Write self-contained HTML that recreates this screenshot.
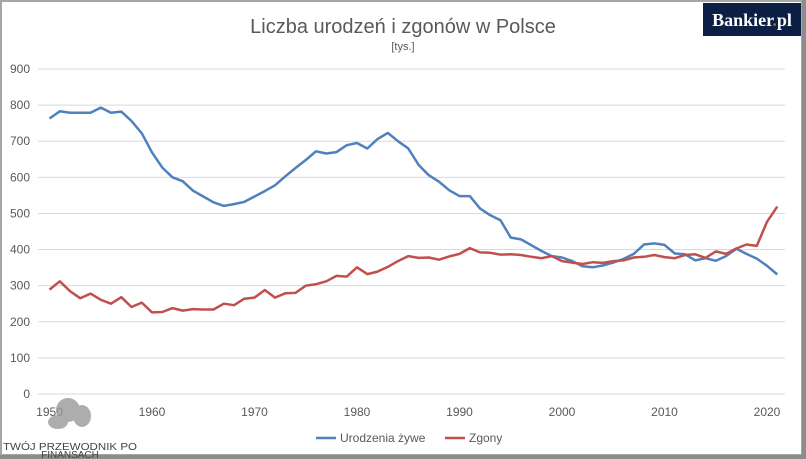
<!DOCTYPE html>
<html><head><meta charset="utf-8"><style>
html,body{margin:0;padding:0;background:#fff}
svg{display:block;font-family:"Liberation Sans",sans-serif}
</style></head><body>
<svg id="s" width="806" height="459" viewBox="0 0 806 459" xmlns="http://www.w3.org/2000/svg">
<rect x="0" y="0" width="806" height="459" fill="#fff"/>
<rect x="1" y="1" width="801" height="454" fill="none" stroke="#a6a6a6" stroke-width="2"/>
<rect x="802" y="0" width="4" height="459" fill="#8c8c8c"/>
<rect x="0" y="455" width="806" height="4" fill="#8c8c8c"/>
<g id="grid" stroke="#d9d9d9" stroke-width="1"></g>
<g id="yl" font-size="12" fill="#595959" text-anchor="end"></g>
<g id="xl" font-size="12" fill="#595959" text-anchor="middle"></g>
<text x="403" y="33" font-size="20" fill="#595959" text-anchor="middle">Liczba urodzeń i zgonów w Polsce</text>
<text x="403" y="50" font-size="11" fill="#595959" text-anchor="middle">[tys.]</text>
<rect x="703" y="3" width="98" height="33" fill="#0b1f45"/>
<text x="752" y="26" font-size="18" font-weight="bold" fill="#fff" text-anchor="middle" font-family="Liberation Serif,serif">Bankier<tspan fill="#e8401c">.</tspan>pl</text>
<polyline id="b" fill="none" stroke="#4f81bd" stroke-width="2.5" stroke-linejoin="round"/>
<polyline id="d" fill="none" stroke="#c0504d" stroke-width="2.5" stroke-linejoin="round"/>
<line x1="316" y1="438" x2="336" y2="438" stroke="#4f81bd" stroke-width="2.5"/>
<text x="340" y="442" font-size="12" fill="#595959">Urodzenia żywe</text>
<line x1="445" y1="438" x2="465" y2="438" stroke="#c0504d" stroke-width="2.5"/>
<text x="469" y="442" font-size="12" fill="#595959">Zgony</text>
<g fill="#999" opacity="0.8">
<ellipse cx="68" cy="410" rx="12" ry="12"/><ellipse cx="58" cy="422" rx="10" ry="7"/><ellipse cx="82" cy="416" rx="9" ry="11"/>
</g>
<text x="70" y="450" font-size="10.5" fill="#444" text-anchor="middle" textLength="134" lengthAdjust="spacingAndGlyphs">TWÓJ PRZEWODNIK PO</text>
<text x="70" y="458" font-size="10" fill="#444" text-anchor="middle">FINANSACH</text>
</svg>
<script>
var B=[763,783,779,779,779,793,779,782,756,722,669,627,600,589,563,547,531,521,526,532,547,562,578,603,626,648,672,666,670,689,695,680,706,723,700,680,635,606,588,564,548,548,514,495,481,433,428,412,396,382,378,368,354,351,356,364,374,388,414,417,413,389,387,370,376,369,382,402,388,375,355,331];
var D=[289,312,285,265,278,261,250,268,241,253,226,227,238,231,235,234,234,250,246,264,267,288,267,279,280,300,304,312,327,325,351,332,339,352,368,382,377,378,372,381,388,404,392,391,386,387,385,380,376,382,368,364,360,365,363,368,370,378,380,385,379,376,385,387,377,395,388,403,414,410,477,519];
function X(i){return 49.5+i*10.25}function Y(v){return 394-v*0.3611}
document.getElementById('b').setAttribute('points',B.map(function(v,i){return X(i).toFixed(1)+','+Y(v).toFixed(1)}).join(' '));
document.getElementById('d').setAttribute('points',D.map(function(v,i){return X(i).toFixed(1)+','+Y(v).toFixed(1)}).join(' '));
var ns='http://www.w3.org/2000/svg',g=document.getElementById('grid'),yl=document.getElementById('yl'),xl=document.getElementById('xl');
for(var v=0;v<=900;v+=100){var y=Y(v);var l=document.createElementNS(ns,'line');l.setAttribute('x1',38);l.setAttribute('x2',785);l.setAttribute('y1',y);l.setAttribute('y2',y);g.appendChild(l);
var t=document.createElementNS(ns,'text');t.setAttribute('x',30);t.setAttribute('y',y+4);t.textContent=v;yl.appendChild(t);}
for(var yr=1950;yr<=2020;yr+=10){var t=document.createElementNS(ns,'text');t.setAttribute('x',X(yr-1950));t.setAttribute('y',416);t.textContent=yr;xl.appendChild(t);}
</script>
</body></html>
